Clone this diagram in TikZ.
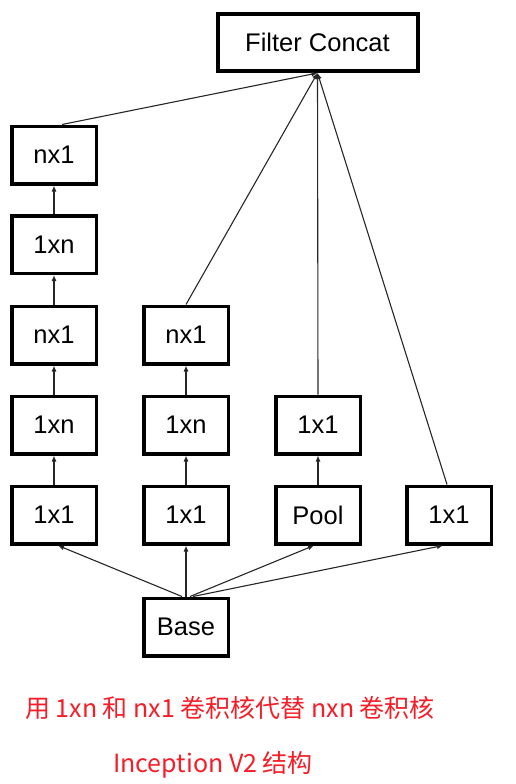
\documentclass[tikz,border=0pt]{standalone}
\usepackage{fontspec}
\setmainfont{Liberation Sans}
\newfontfamily\cjk{Noto Sans CJK SC}
\usetikzlibrary{arrows.meta}
\definecolor{capred}{RGB}{245,30,40}
\begin{document}
\begin{tikzpicture}[x=1pt,y=-1pt,
  box/.style={draw=black,line width=3.5pt,minimum width=84.5pt,minimum height=57.5pt,inner sep=0pt,font=\fontsize{25.5}{28}\selectfont},
  conn/.style={line width=1.1pt,draw=black!85,-{Latex[length=6pt,width=5pt]}},
  caption/.style={text=capred,font=\cjk\fontsize{25}{28}\selectfont,inner sep=0pt}]
\useasboundingbox (0,0) rectangle (516,784);
\node[box,line width=4pt,minimum width=200pt,minimum height=57pt] (fc) at (317.5,42.5) {Filter Concat};
% column 1
\node[box] (a1) at (54,155) {nx1};
\node[box] (a2) at (54,244.5) {1xn};
\node[box] (a3) at (54,335) {nx1};
\node[box] (a4) at (54,425) {1xn};
\node[box] (a5) at (54,515) {1x1};
% column 2
\node[box] (b3) at (186,335) {nx1};
\node[box] (b4) at (186,425) {1xn};
\node[box] (b5) at (186,515) {1x1};
% column 3
\node[box] (c4) at (318,425) {1x1};
\node[box] (c5) at (318,515) {Pool};
% column 4
\node[box] (d5) at (449,515) {1x1};
% base
\node[box] (base) at (186,627) {Base};
% vertical arrows
\draw[conn] (a5) -- (a4);
\draw[conn] (a4) -- (a3);
\draw[conn] (a3) -- (a2);
\draw[conn] (a2) -- (a1);
\draw[conn] (b5) -- (b4);
\draw[conn] (b4) -- (b3);
\draw[conn] (c5) -- (c4);
% base fan
\draw[conn] ([xshift=-4pt]base.north) -- ([xshift=4pt]a5.south);
\draw[conn] (base.north) -- (b5.south);
\draw[conn] ([xshift=4pt]base.north) -- ([xshift=-4pt]c5.south);
\draw[conn] ([xshift=7pt]base.north) -- ([xshift=-6pt]d5.south);
% to filter concat
\draw[conn] ([xshift=8pt]a1.north) -- (fc.south);
\draw[conn] (b3.north) -- (fc.south);
\draw[conn] (c4.north) -- (fc.south);
\draw[conn] ([xshift=-2pt]d5.north) -- (fc.south);
% captions
\node[caption] (cap1) at (230,708) {用 1xn 和 nx1 卷积核代替 nxn 卷积核};
\node[caption] (cap2) at (213,765) {Inception V2 结构};
\end{tikzpicture}
\end{document}
